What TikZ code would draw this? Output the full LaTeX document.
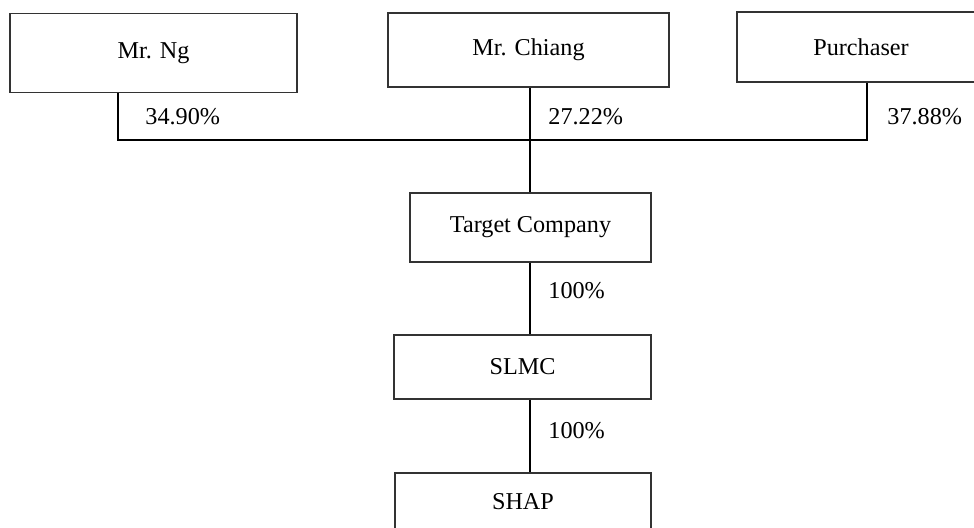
\documentclass[tikz,border=0pt]{standalone}
\usepackage{fontspec}
\setmainfont{Liberation Serif}
\usepackage{tikz}
\usetikzlibrary{positioning,calc}

\begin{document}
\begin{tikzpicture}[
    x=0.5pt, y=-0.5pt,
    font=\fontsize{12.1}{14}\selectfont,
    entity/.style={rectangle, draw=black!80, line width=0.6pt, inner sep=0pt},
    pct/.style={anchor=west, inner sep=0pt},
    link/.style={line width=0.8pt, black}
]
\clip (0,0) rectangle (974,527);
\fill[white] (0,0) rectangle (974,527);
% shareholders
\node[entity, minimum width=143.5pt, minimum height=39.5pt] (ng) at (153.5,53) {Mr. Ng};
\node[entity, minimum width=140.5pt, minimum height=37pt] (chiang) at (528.5,50) {Mr. Chiang};
\node[entity, minimum width=124pt, minimum height=35pt] (purch) at (861,47) {Purchaser};
% group
\node[entity, minimum width=120.5pt, minimum height=34.5pt] (target) at (530.5,227.5) {Target Company};
\node[entity, minimum width=128.5pt, minimum height=32pt] (slmc) at (522.5,367) {SLMC};
\node[entity, minimum width=128pt, minimum height=29pt] (shap) at (523,502) {SHAP};
% junctions on the bar
\coordinate (j1) at (118,140);
\coordinate (j2) at (530,140);
\coordinate (j3) at (867,140);
\draw[link] (ng.south -| j1) -- (j1) -- (j3) -- (purch.south -| j3);
\draw[link] (chiang.south -| j2) -- (target.north -| j2);
\draw[link] (target.south -| j2) -- (slmc.north -| j2);
\draw[link] (slmc.south -| j2) -- (shap.north -| j2);
% holdings
\node[pct] (p1) at (145,117) {34.90\%};
\node[pct] (p2) at (548,117) {27.22\%};
\node[pct] (p3) at (887,117) {37.88\%};
\node[pct] (p4) at (548,291) {100\%};
\node[pct] (p5) at (548,431) {100\%};
\end{tikzpicture}
\end{document}
